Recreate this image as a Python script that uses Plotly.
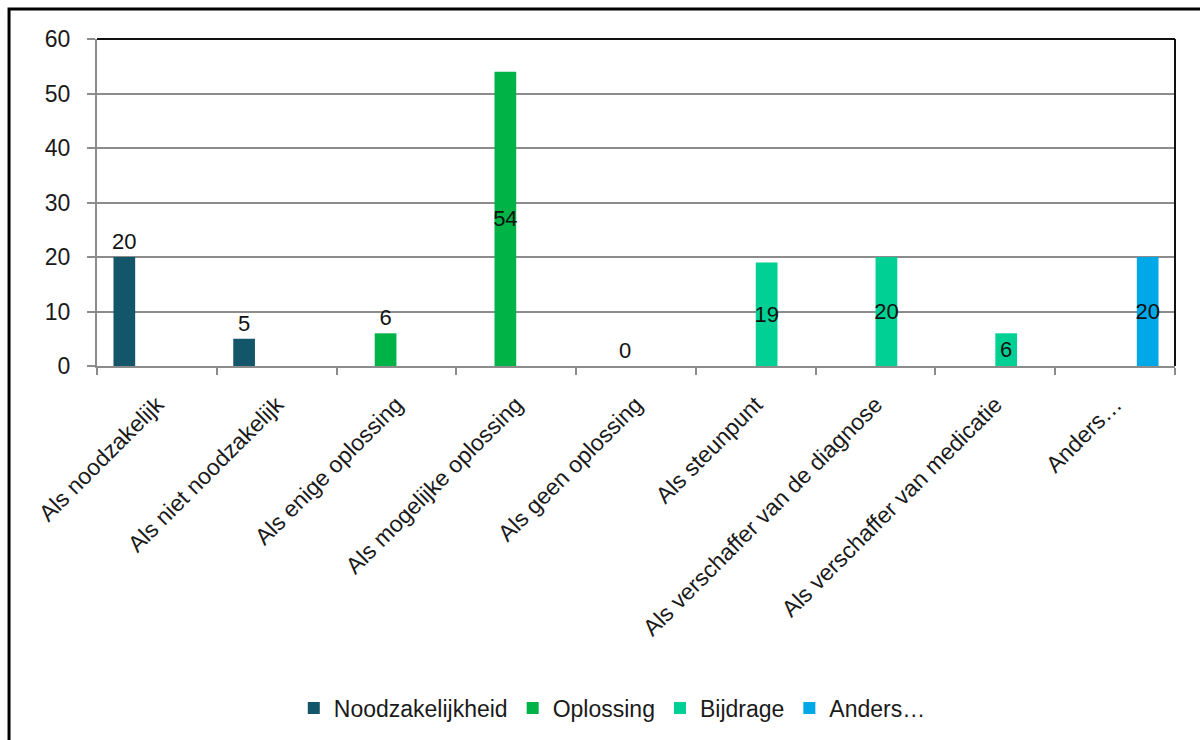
import plotly.graph_objects as go

categories = ["Als noodzakelijk", "Als niet noodzakelijk", "Als enige oplossing",
              "Als mogelijke oplossing", "Als geen oplossing", "Als steunpunt",
              "Als verschaffer van de diagnose", "Als verschaffer van medicatie", "Anders…"]
series_names = ["Noodzakelijkheid", "Oplossing", "Bijdrage", "Anders…"]
noodzakelijkheid = [20, 5, None, None, None, None, None, None, None]
oplossing = [None, None, 6, 54, 0, None, None, None, None]
bijdrage = [None, None, None, None, None, 19, 20, 6, None]
anders = [None, None, None, None, None, None, None, None, 20]
y_ticks = [0, 10, 20, 30, 40, 50, 60]

colors = ["#13566a", "#00b347", "#00d094", "#00a8e8"]
label_pos = [
    ["outside"] * 9,
    ["outside", "outside", "outside", "inside", "outside", "outside", "outside", "outside", "outside"],
    ["inside"] * 9,
    ["inside"] * 9,
]
all_series = [noodzakelijkheid, oplossing, bijdrage, anders]

FONT = "Liberation Sans, Arial, sans-serif"
fig = go.Figure()
for name, vals, col, pos in zip(series_names, all_series, colors, label_pos):
    fig.add_trace(go.Bar(
        name=name, x=categories, y=vals, marker=dict(color=col, line=dict(width=0)),
        text=[("" if v is None else str(v)) for v in vals],
        textposition=pos, insidetextanchor="middle", constraintext="none", textangle=0,
        textfont=dict(family=FONT, size=22, color="#111111"),
        cliponaxis=False,
    ))

fig.update_layout(
    width=1200, height=740,
    margin=dict(l=97, r=25, t=39, b=374, autoexpand=False),
    paper_bgcolor="white", plot_bgcolor="white",
    barmode="group", bargap=0.275, bargroupgap=0.0,
    font=dict(family=FONT, size=22, color="#1a1a1a"),
    legend=dict(orientation="h", x=0.478, xanchor="center", y=-1.046, yanchor="middle",
                font=dict(family=FONT, size=23, color="#1a1a1a"), itemwidth=30,
                traceorder="normal"),
    xaxis=dict(type="category", tickangle=-45, showgrid=False, showline=True,
               linecolor="#8c8c8c", linewidth=2, ticks="outside", tickson="boundaries",
               ticklen=7, tickcolor="#8c8c8c", tickwidth=2, ticklabelstandoff=14,
               automargin=False,
               tickfont=dict(family=FONT, size=23, color="#1a1a1a")),
    yaxis=dict(range=[0, 60], tickvals=y_ticks, showgrid=True, gridcolor="#8c8c8c",
               gridwidth=2, showline=True, linecolor="#8c8c8c", linewidth=2,
               ticks="outside", ticklen=8, tickcolor="#8c8c8c", tickwidth=2,
               ticklabelstandoff=12, automargin=False,
               tickfont=dict(family=FONT, size=23, color="#1a1a1a"), zeroline=False),
    shapes=[
        dict(type="line", xref="paper", yref="paper", x0=0, x1=1, y0=1, y1=1,
             line=dict(color="#111111", width=2)),
        dict(type="line", xref="paper", yref="paper", x0=1, x1=1, y0=0, y1=1,
             line=dict(color="#111111", width=2)),
        dict(type="rect", xref="paper", yref="paper", x0=-0.0816, x1=1.06, y0=-1.2, y1=1.0917,
             line=dict(color="#000000", width=3), layer="below"),
    ],
)

fig.write_html("out.html")
